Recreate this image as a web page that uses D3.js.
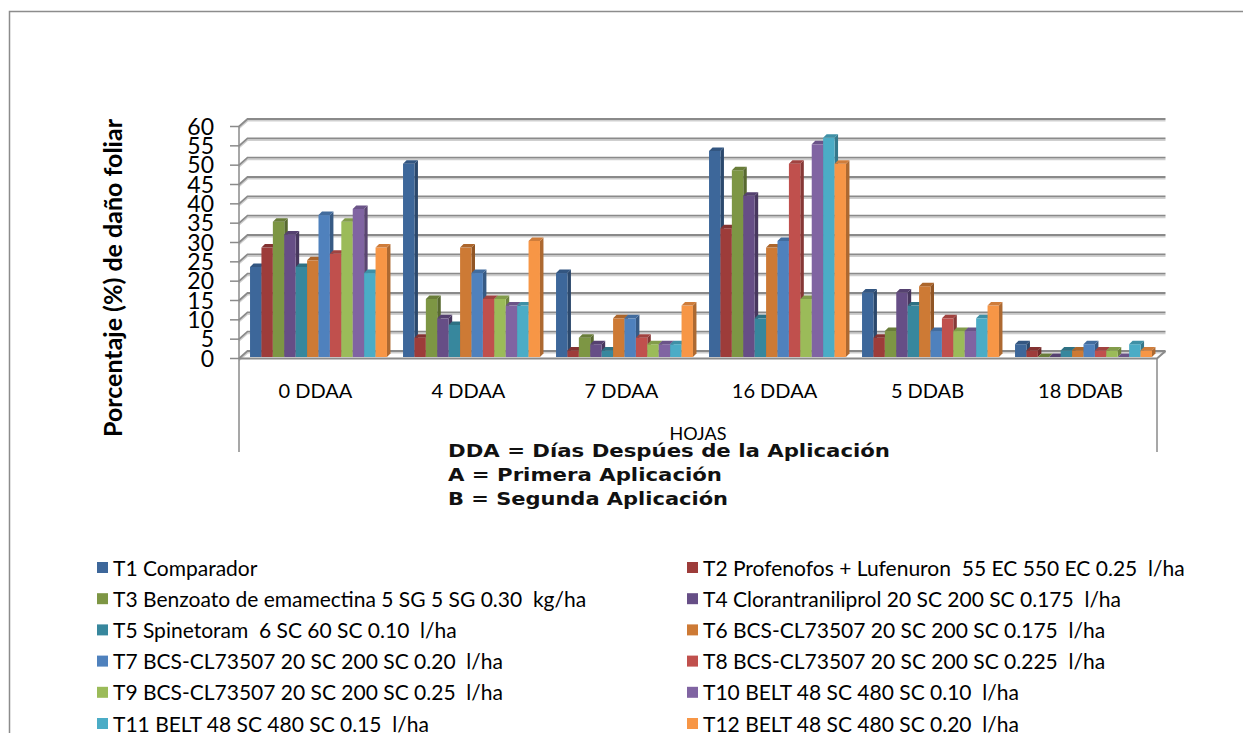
<!DOCTYPE html>
<html>
<head>
<meta charset="utf-8">
<script src="https://cdn.jsdelivr.net/npm/d3@7"></script>
<style>
  html, body { margin: 0; padding: 0; background: #ffffff; }
  svg { display: block; }
</style>
</head>
<body>
<svg id="chart" width="1243" height="733"></svg>
<script>
// Sampling dates (days after first / second application)
const categories = ["0 DDAA", "4 DDAA", "7 DDAA", "16 DDAA", "5 DDAB", "18 DDAB"];

// Treatments
const treatments = [
  "T1 Comparador",
  "T2 Profenofos + Lufenuron  55 EC 550 EC 0.25  l/ha",
  "T3 Benzoato de emamectina 5 SG 5 SG 0.30  kg/ha",
  "T4 Clorantraniliprol 20 SC 200 SC 0.175  l/ha",
  "T5 Spinetoram  6 SC 60 SC 0.10  l/ha",
  "T6 BCS-CL73507 20 SC 200 SC 0.175  l/ha",
  "T7 BCS-CL73507 20 SC 200 SC 0.20  l/ha",
  "T8 BCS-CL73507 20 SC 200 SC 0.225  l/ha",
  "T9 BCS-CL73507 20 SC 200 SC 0.25  l/ha",
  "T10 BELT 48 SC 480 SC 0.10  l/ha",
  "T11 BELT 48 SC 480 SC 0.15  l/ha",
  "T12 BELT 48 SC 480 SC 0.20  l/ha"
];

// Leaf damage (%) per treatment, one value per sampling date
const t1  = [23.3, 50.0, 21.7, 53.3, 16.7, 3.3];
const t2  = [28.3,  5.0,  1.7, 33.3,  5.0, 1.7];
const t3  = [35.0, 15.0,  5.0, 48.3,  6.7, 0.0];
const t4  = [31.7, 10.0,  3.3, 41.7, 16.7, 0.0];
const t5  = [23.3,  8.3,  1.7, 10.0, 13.3, 1.7];
const t6  = [25.0, 28.3, 10.0, 28.3, 18.3, 1.7];
const t7  = [36.7, 21.7, 10.0, 30.0,  6.7, 3.3];
const t8  = [26.7, 15.0,  5.0, 50.0, 10.0, 1.7];
const t9  = [35.0, 15.0,  3.3, 15.0,  6.7, 1.7];
const t10 = [38.3, 13.3,  3.3, 55.0,  6.7, 0.0];
const t11 = [21.7, 13.3,  3.3, 56.7, 10.0, 3.3];
const t12 = [28.3, 30.0, 13.3, 50.0, 13.3, 1.7];
const seriesValues = [t1, t2, t3, t4, t5, t6, t7, t8, t9, t10, t11, t12];

const yTicks = [0, 5, 10, 15, 20, 25, 30, 35, 40, 45, 50, 55, 60];

const colors = [
  "#3d679a", "#9d3c3a", "#7d9644", "#664e86", "#37879d", "#cd7a35",
  "#4f81bd", "#c0504d", "#9bbb59", "#8064a2", "#4bacc6", "#f79646"
];

const notes = [
  "DDA = Días Despúes de la Aplicación",
  "A = Primera Aplicación",
  "B = Segunda Aplicación"
];
const noteWidths = [442, 274, 280];

const svg = d3.select("#chart");
const font = "Lato, 'Open Sans', sans-serif";

// Chart area border (runs past the right and bottom edges)
svg.append("rect")
  .attr("x", 9.5).attr("y", 11.5).attr("width", 1400).attr("height", 900)
  .attr("fill", "none").attr("stroke", "#8c8c8c").attr("stroke-width", 1.5);

// 3D frame geometry
const wallX0 = 239, depthDx = 8.5, depthDy = 7.5, wallX1 = 1157;
const yFront = d3.scaleLinear().domain([0, 60]).range([358.5, 126.5]);
const yBack = v => yFront(v) - depthDy;

const grid = svg.append("g");
yTicks.forEach(v => {
  const yf = yFront(v), yb = yBack(v);
  // light shadow under each gridline
  grid.append("path")
    .attr("d", `M${wallX0},${yf + 1.8}L${wallX0 + depthDx},${yb + 1.8}L${wallX1 + depthDx},${yb + 1.8}`)
    .attr("fill", "none").attr("stroke", "#cfcfcf").attr("stroke-width", 1.6);
  grid.append("path")
    .attr("d", `M${wallX0},${yf}L${wallX0 + depthDx},${yb}L${wallX1 + depthDx},${yb}`)
    .attr("fill", "none").attr("stroke", "#8a8a8a").attr("stroke-width", 1.8);
  // tick mark
  grid.append("line")
    .attr("x1", wallX0 - 9).attr("x2", wallX0).attr("y1", yf).attr("y2", yf)
    .attr("stroke", "#8a8a8a").attr("stroke-width", 1.5);
});

// Floor front edge and category-axis boundary lines
grid.append("path")
  .attr("d", `M${wallX0},${yFront(0)}L${wallX1},${yFront(0)}L${wallX1 + depthDx},${yBack(0)}`)
  .attr("fill", "none").attr("stroke", "#8a8a8a").attr("stroke-width", 2);
grid.append("line")
  .attr("x1", wallX0).attr("x2", wallX0).attr("y1", yFront(60)).attr("y2", 452)
  .attr("stroke", "#8a8a8a").attr("stroke-width", 1.5);
grid.append("line")
  .attr("x1", wallX1).attr("x2", wallX1).attr("y1", yFront(0)).attr("y2", 452)
  .attr("stroke", "#8a8a8a").attr("stroke-width", 1.5);

// Value axis labels
svg.append("g").selectAll("text").data(yTicks).join("text")
  .attr("x", 214).attr("y", d => yFront(d))
  .attr("dy", "0.36em")
  .attr("text-anchor", "end")
  .style("font-family", font).style("font-size", "23px").attr("fill", "#000")
  .text(d => d);

// Bars
const x0 = d3.scaleBand().domain(categories).range([wallX0, wallX1])
  .paddingInner(0.105).paddingOuter(0.0525);
const x1 = d3.scaleBand().domain(d3.range(treatments.length)).range([0, x0.bandwidth()]);
const barBase = 357;
const yBar = d3.scaleLinear().domain([0, 60]).range([barBase, barBase - 232]);
const bdx = 3.5, bdy = 3.5, shift = 3;

const bars = svg.append("g");
categories.forEach((cat, ci) => {
  seriesValues.forEach((vals, si) => {
    const v = vals[ci];
    const xf = x0(cat) + x1(si) + shift;
    const w = x1.bandwidth();
    const yt = yBar(v);
    const c = d3.color(colors[si]);
    const g = bars.append("g");
    // side face
    g.append("path")
      .attr("d", `M${xf + w},${yt}L${xf + w + bdx},${yt - bdy}L${xf + w + bdx},${barBase - bdy}L${xf + w},${barBase}Z`)
      .attr("fill", c.darker(1.0));
    // front face
    g.append("rect")
      .attr("x", xf).attr("y", yt).attr("width", w).attr("height", barBase - yt)
      .attr("fill", colors[si]);
    // top face
    g.append("path")
      .attr("d", `M${xf},${yt}L${xf + bdx},${yt - bdy}L${xf + w + bdx},${yt - bdy}L${xf + w},${yt}Z`)
      .attr("fill", c.darker(0.5));
  });
});

// Category labels
svg.append("g").selectAll("text").data(categories).join("text")
  .attr("x", d => x0(d) + x0.bandwidth() / 2)
  .attr("y", 391).attr("dy", "0.36em")
  .attr("text-anchor", "middle")
  .style("font-family", font).style("font-size", "20px").attr("fill", "#000")
  .text(d => d);

// Axis titles
svg.append("text")
  .attr("transform", "translate(113,278) rotate(-90)")
  .attr("text-anchor", "middle").attr("dy", "0.36em")
  .style("font-family", font).style("font-size", "25px").style("font-weight", "bold")
  .attr("fill", "#000")
  .text("Porcentaje (%) de daño foliar");

svg.append("text")
  .attr("x", 698).attr("y", 434).attr("dy", "0.36em")
  .attr("text-anchor", "middle")
  .style("font-family", font).style("font-size", "18px").attr("fill", "#000")
  .text("HOJAS");

// Abbreviation notes
svg.append("g").selectAll("text").data(notes).join("text")
  .attr("x", 448).attr("y", (d, i) => 451 + i * 24).attr("dy", "0.36em")
  .attr("textLength", (d, i) => noteWidths[i])
  .attr("lengthAdjust", "spacingAndGlyphs")
  .style("font-family", "'DejaVu Sans', Verdana, sans-serif")
  .style("font-size", "18px").style("font-weight", "bold").attr("fill", "#111")
  .text(d => d);

// Legend: two columns, odd treatments left, even treatments right
const legend = svg.append("g");
treatments.forEach((name, i) => {
  const col = i % 2, row = Math.floor(i / 2);
  const lx = col === 0 ? 97 : 687;
  const ly = 568 + row * 31.2;
  legend.append("rect")
    .attr("x", lx).attr("y", ly - 6).attr("width", 11).attr("height", 11)
    .attr("fill", colors[i]);
  legend.append("text")
    .attr("xml:space", "preserve")
    .attr("x", lx + 16).attr("y", ly).attr("dy", "0.36em")
    .style("font-family", font).style("font-size", "21px").attr("fill", "#000")
    .style("white-space", "pre")
    .text(name);
});
</script>
</body>
</html>
